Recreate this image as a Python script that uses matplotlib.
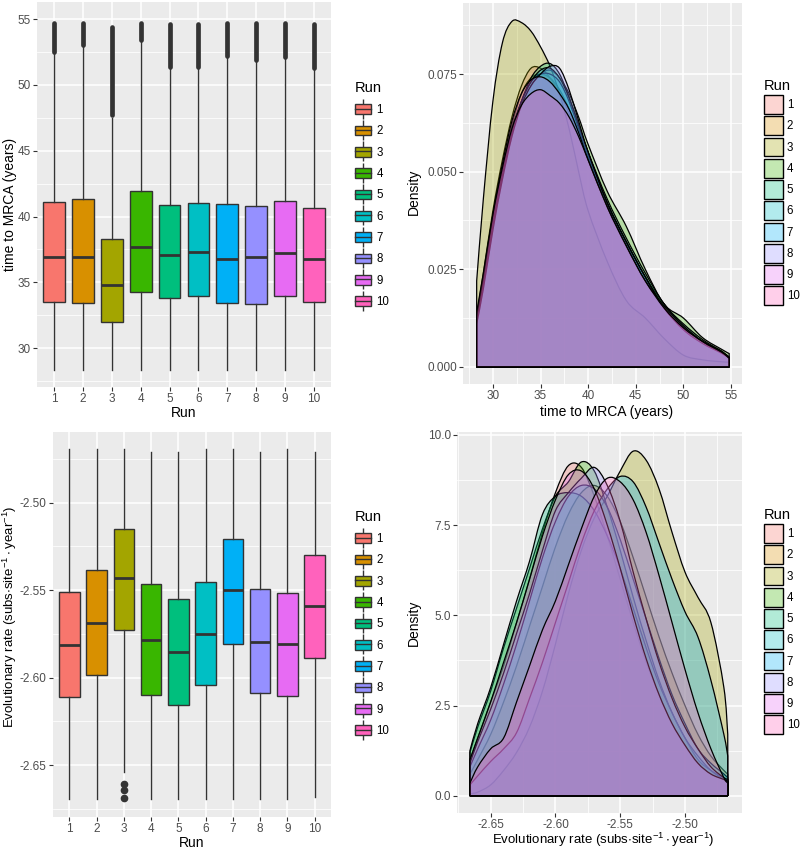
import numpy as np
import matplotlib
matplotlib.use('Agg')
import matplotlib.pyplot as plt
from matplotlib.patches import Patch, PathPatch
from matplotlib.path import Path
from matplotlib.lines import Line2D
from matplotlib.legend_handler import HandlerTuple
from matplotlib.colors import to_rgba

plt.rcParams['font.family'] = ['Liberation Sans', 'DejaVu Sans']
plt.rcParams['axes.unicode_minus'] = False
plt.rcParams['mathtext.default'] = 'regular'

runs = ['1', '2', '3', '4', '5', '6', '7', '8', '9', '10']
colors = ['#F8766D', '#D89000', '#A3A500', '#39B600', '#00BF7D',
          '#00BFC4', '#00B0F6', '#9590FF', '#E76BF3', '#FF62BC']

# time to MRCA boxplots (years)
tm_q1 = [33.52, 33.42, 31.96, 34.28, 33.80, 34.00, 33.42, 33.35, 33.93, 33.52]
tm_med = [36.90, 36.95, 34.81, 37.70, 37.05, 37.27, 36.77, 36.92, 37.20, 36.75]
tm_q3 = [41.08, 41.30, 38.26, 41.96, 40.90, 41.00, 40.98, 40.80, 41.20, 40.65]
tm_lo = [28.36] * 10
tm_hi = [52.4, 52.9, 47.5, 53.3, 51.3, 51.3, 52.1, 51.8, 52.0, 51.2]
tm_out_lo = [52.5, 53.0, 47.7, 53.4, 51.4, 51.4, 52.2, 51.9, 52.1, 51.3]
tm_out_hi = [54.7, 54.7, 54.4, 54.7, 54.6, 54.6, 54.7, 54.7, 54.7, 54.6]

# evolutionary rate boxplots
er_q1 = [-2.6113, -2.5987, -2.5726, -2.6102, -2.6159, -2.6044, -2.5810, -2.6088, -2.6105, -2.5888]
er_med = [-2.5814, -2.5686, -2.5429, -2.5787, -2.5856, -2.5753, -2.5501, -2.5799, -2.5806, -2.5593]
er_q3 = [-2.5511, -2.5385, -2.5152, -2.5465, -2.5551, -2.5454, -2.5206, -2.5496, -2.5518, -2.5299]
er_lo = [-2.6694, -2.6694, -2.6538, -2.6694, -2.6694, -2.6694, -2.6694, -2.6694, -2.6694, -2.6680]
er_hi = [-2.4695, -2.4695, -2.4695, -2.4708, -2.4708, -2.4695, -2.4695, -2.4708, -2.4695, -2.4712]
er_out = [[], [], [-2.661, -2.664, -2.669], [], [], [], [], [], [], []]

# density of time to MRCA
tm_x = [28.3, 29, 30, 31, 32, 33, 34, 35, 36, 37, 38, 39, 40, 42, 44, 46, 48, 50, 52, 54, 54.8]
tm_dens = [
    [0.013, 0.024, 0.040, 0.053, 0.064, 0.072, 0.0765, 0.0765, 0.074, 0.070, 0.065, 0.059, 0.053, 0.041, 0.031, 0.022, 0.016, 0.010, 0.0065, 0.004, 0.002],
    [0.012, 0.022, 0.038, 0.051, 0.062, 0.070, 0.074, 0.075, 0.074, 0.071, 0.066, 0.060, 0.054, 0.042, 0.032, 0.023, 0.016, 0.0105, 0.0065, 0.004, 0.002],
    [0.022, 0.043, 0.068, 0.083, 0.0885, 0.0882, 0.086, 0.082, 0.077, 0.070, 0.061, 0.050, 0.040, 0.027, 0.017, 0.0125, 0.0072, 0.003, 0.0018, 0.0013, 0.0012],
    [0.011, 0.020, 0.035, 0.048, 0.059, 0.067, 0.072, 0.075, 0.076, 0.074, 0.070, 0.064, 0.057, 0.045, 0.036, 0.025, 0.016, 0.0125, 0.0075, 0.0045, 0.0034],
    [0.012, 0.021, 0.036, 0.049, 0.060, 0.068, 0.074, 0.077, 0.0777, 0.075, 0.069, 0.062, 0.055, 0.043, 0.033, 0.024, 0.016, 0.011, 0.007, 0.004, 0.0025],
    [0.013, 0.022, 0.037, 0.050, 0.061, 0.068, 0.073, 0.075, 0.075, 0.073, 0.068, 0.061, 0.054, 0.042, 0.032, 0.023, 0.015, 0.010, 0.0065, 0.0038, 0.0024],
    [0.012, 0.021, 0.036, 0.049, 0.060, 0.068, 0.073, 0.076, 0.0765, 0.074, 0.069, 0.062, 0.055, 0.042, 0.032, 0.023, 0.015, 0.0095, 0.006, 0.0035, 0.0022],
    [0.011, 0.020, 0.035, 0.048, 0.059, 0.067, 0.072, 0.075, 0.077, 0.0765, 0.071, 0.063, 0.055, 0.042, 0.032, 0.023, 0.015, 0.010, 0.0065, 0.0037, 0.0023],
    [0.013, 0.023, 0.039, 0.052, 0.063, 0.070, 0.0735, 0.0743, 0.073, 0.070, 0.066, 0.060, 0.053, 0.041, 0.031, 0.022, 0.0155, 0.0105, 0.0065, 0.0038, 0.0022],
    [0.014, 0.024, 0.039, 0.051, 0.061, 0.067, 0.070, 0.071, 0.0695, 0.0675, 0.064, 0.059, 0.053, 0.041, 0.031, 0.022, 0.015, 0.010, 0.0065, 0.0038, 0.0022],
]

# density of evolutionary rate
er_x = [-2.666, -2.66, -2.65, -2.64, -2.63, -2.62, -2.61, -2.60, -2.59, -2.58, -2.57,
        -2.56, -2.55, -2.54, -2.53, -2.52, -2.51, -2.50, -2.49, -2.48, -2.47, -2.467]
er_dens = [
    [1.0, 1.6, 2.6, 3.6, 4.8, 6.0, 7.3, 8.4, 9.15, 9.1, 8.3, 7.2, 6.0, 4.8, 3.7, 2.8, 2.0, 1.4, 0.9, 0.6, 0.45, 0.4],
    [0.6, 1.0, 1.7, 2.6, 3.6, 4.7, 5.8, 6.9, 7.8, 8.4, 8.6, 8.3, 7.6, 6.6, 5.5, 4.4, 3.4, 2.5, 1.7, 1.1, 0.7, 0.6],
    [0.05, 0.1, 0.3, 0.7, 1.2, 1.9, 2.9, 4.2, 5.6, 6.8, 7.7, 8.3, 9.0, 9.55, 9.3, 8.5, 7.3, 6.2, 5.5, 4.8, 3.0, 1.7],
    [1.2, 1.9, 2.9, 4.1, 5.2, 6.3, 7.4, 8.3, 8.7, 9.25, 9.0, 8.0, 6.8, 5.5, 4.3, 3.2, 2.3, 1.6, 1.0, 0.7, 0.5, 0.45],
    [1.25, 2.0, 3.0, 4.2, 5.4, 6.5, 7.8, 8.3, 8.4, 8.3, 7.9, 7.2, 6.3, 5.2, 4.1, 3.1, 2.3, 1.6, 1.1, 0.7, 0.45, 0.4],
    [0.8, 1.3, 2.1, 3.1, 4.2, 5.4, 6.6, 7.6, 8.3, 8.6, 8.5, 8.0, 7.1, 6.0, 4.9, 3.8, 2.8, 2.0, 1.3, 0.9, 0.6, 0.5],
    [0.3, 0.55, 0.95, 1.3, 1.75, 2.7, 3.7, 4.8, 5.9, 7.0, 7.9, 8.5, 8.85, 8.7, 8.0, 7.0, 6.0, 5.1, 4.4, 3.2, 1.7, 1.1],
    [0.9, 1.5, 2.4, 3.4, 4.5, 5.6, 6.8, 7.9, 8.4, 8.8, 9.1, 8.6, 7.6, 6.2, 4.9, 3.7, 2.7, 1.9, 1.3, 0.8, 0.5, 0.45],
    [1.0, 1.6, 2.6, 3.7, 4.8, 6.0, 7.2, 8.2, 8.9, 9.0, 8.5, 7.5, 6.3, 5.0, 3.8, 2.8, 2.0, 1.4, 0.9, 0.6, 0.45, 0.4],
    [0.35, 0.8, 1.3, 1.6, 2.6, 3.6, 4.6, 5.4, 6.4, 7.4, 8.3, 8.8, 8.7, 8.2, 7.3, 6.1, 4.8, 3.5, 2.3, 1.3, 0.5, 0.35],
]

tm_label = 'time to MRCA (years)'
er_label = r'Evolutionary rate (subs$\cdot$site$^{-1}\cdot$year$^{-1}$)'

fig = plt.figure(figsize=(8, 8.5), dpi=100)
ax_tl = fig.add_axes([0.04625, 0.5447, 0.3675, 0.4529])
ax_tr = fig.add_axes([0.5788, 0.5482, 0.34875, 0.4482])
ax_bl = fig.add_axes([0.06625, 0.0388, 0.3475, 0.4529])
ax_br = fig.add_axes([0.57125, 0.0435, 0.35625, 0.4482])


def gg_style(ax):
    ax.set_facecolor('#EBEBEB')
    for s in ax.spines.values():
        s.set_visible(False)
    ax.set_axisbelow(True)
    ax.grid(which='major', color='white', lw=1.1)
    ax.grid(which='minor', color='white', lw=0.55)
    ax.tick_params(which='major', length=3, width=0.8, color='#333333',
                   labelcolor='#4D4D4D', labelsize=8.5, pad=1.5)
    ax.tick_params(which='minor', length=0)


def labels(ax, xl, xpos, yl, ypos, xsize=10, ysize=10):
    ax.set_xlabel(xl, fontsize=xsize, va='center', ha='center')
    ax.set_ylabel(yl, fontsize=ysize, va='center', ha='center')
    ax.xaxis.set_label_coords(*xpos)
    ax.yaxis.set_label_coords(*ypos)


def boxes(ax, q1, med, q3, lo, hi, out):
    stats = []
    for i in range(len(runs)):
        stats.append(dict(med=med[i], q1=q1[i], q3=q3[i], whislo=lo[i],
                          whishi=hi[i], fliers=out[i]))
    bp = ax.bxp(stats, positions=range(1, 11), widths=0.75, patch_artist=True,
                showcaps=False,
                boxprops=dict(edgecolor='#333333', lw=1),
                whiskerprops=dict(color='#333333', lw=1),
                medianprops=dict(color='#333333', lw=2),
                flierprops=dict(marker='o', markerfacecolor='#333333',
                                markeredgecolor='#333333', markersize=4.5))
    for patch, c in zip(bp['boxes'], colors):
        patch.set_facecolor(c)
    ax.set_xticks(range(1, 11))
    ax.set_xticklabels(runs)
    ax.set_xlim(0.4, 10.6)


def box_legend(ax, y_top):
    handles = []
    for c in colors:
        handles.append((Line2D([], [], color='#333333', marker='|', markersize=15,
                               markeredgewidth=1, linestyle='none'),
                        Patch(facecolor=c, edgecolor='#333333', lw=1),
                        Line2D([], [], color='#333333', lw=1)))
    ax.legend(handles, runs, title='Run', loc='upper left', frameon=False,
              bbox_to_anchor=(349 / 800, 1 - y_top / 850), bbox_transform=fig.transFigure,
              handler_map={tuple: HandlerTuple(ndivide=1, pad=0)},
              fontsize=8.3, title_fontsize=10.5, handlelength=1.45, handleheight=0.95,
              labelspacing=0.81, handletextpad=0.45, borderpad=0, alignment='left')


def dens_legend(ax, y_top):
    handles = [Patch(facecolor=to_rgba(c, 0.3), edgecolor='black', lw=1) for c in colors]
    ax.legend(handles, runs, title='Run', loc='upper left', frameon=False,
              bbox_to_anchor=(758 / 800, 1 - y_top / 850), bbox_transform=fig.transFigure,
              fontsize=8.3, title_fontsize=10.5, handlelength=1.65, handleheight=2.15,
              labelspacing=0.2, handletextpad=0.35, borderpad=0, alignment='left')


def smooth_path(x, y):
    # closed outline: baseline corner, curve through the points, baseline corner
    p = np.column_stack([x, y])
    n = len(p)
    verts = [(x[0], 0), tuple(p[0])]
    codes = [Path.MOVETO, Path.LINETO]
    for i in range(n - 1):
        prev = p[max(i - 1, 0)]
        nxt = p[min(i + 2, n - 1)]
        c1 = p[i] + (p[i + 1] - prev) / 6
        c2 = p[i + 1] - (nxt - p[i]) / 6
        verts += [tuple(c1), tuple(c2), tuple(p[i + 1])]
        codes += [Path.CURVE4] * 3
    verts += [(x[-1], 0), (x[0], 0)]
    codes += [Path.LINETO, Path.CLOSEPOLY]
    return Path(verts, codes)


def densities(ax, x, dens):
    for i, d in enumerate(dens):
        ax.add_patch(PathPatch(smooth_path(np.array(x), np.array(d)),
                               facecolor=to_rgba(colors[i], 0.3), edgecolor='black',
                               lw=0.9, zorder=2 + i))


# top left
gg_style(ax_tl)
boxes(ax_tl, tm_q1, tm_med, tm_q3, tm_lo, tm_hi, [[]] * 10)
vl = ax_tl.vlines(range(1, 11), tm_out_lo, tm_out_hi, color='#333333', lw=3.4, zorder=3)
vl.set_capstyle('round')
ax_tl.set_ylim(27.05, 56.3)
ax_tl.set_yticks([30, 35, 40, 45, 50, 55])
ax_tl.set_yticks([27.5, 32.5, 37.5, 42.5, 47.5, 52.5], minor=True)
labels(ax_tl, 'Run', (0.5, -0.0675), tm_label, (-0.0918, 0.473))
box_legend(ax_tl, 75)

# top right
gg_style(ax_tr)
densities(ax_tr, tm_x, tm_dens)
ax_tr.set_xlim(26.87, 56.15)
ax_tr.set_ylim(-0.0044, 0.0932)
ax_tr.set_xticks([30, 35, 40, 45, 50, 55])
ax_tr.set_xticks([27.5, 32.5, 37.5, 42.5, 47.5, 52.5], minor=True)
ax_tr.set_yticks([0, 0.025, 0.05, 0.075])
ax_tr.set_yticklabels(['0.000', '0.025', '0.050', '0.075'])
ax_tr.set_yticks([0.0125, 0.0375, 0.0625, 0.0875], minor=True)
labels(ax_tr, tm_label, (0.516, -0.0735), 'Density', (-0.1756, 0.504))
dens_legend(ax_tr, 73)

# bottom left
gg_style(ax_bl)
boxes(ax_bl, er_q1, er_med, er_q3, er_lo, er_hi, er_out)
ax_bl.set_ylim(-2.6797, -2.4596)
ax_bl.set_yticks([-2.65, -2.60, -2.55, -2.50])
ax_bl.set_yticklabels(['-2.65', '-2.60', '-2.55', '-2.50'])
ax_bl.set_yticks([-2.675, -2.625, -2.575, -2.525, -2.475], minor=True)
labels(ax_bl, 'Run', (0.5, -0.0675), er_label, (-0.155, 0.519), ysize=9.5)
box_legend(ax_bl, 504)

# bottom right
gg_style(ax_br)
densities(ax_br, er_x, er_dens)
ax_br.set_xlim(-2.676, -2.456)
ax_br.set_ylim(-0.48, 10.08)
ax_br.set_xticks([-2.65, -2.60, -2.55, -2.50])
ax_br.set_xticklabels(['-2.65', '-2.60', '-2.55', '-2.50'])
ax_br.set_xticks([-2.675, -2.625, -2.575, -2.525, -2.475], minor=True)
ax_br.set_yticks([0, 2.5, 5, 7.5, 10])
ax_br.set_yticklabels(['0.0', '2.5', '5.0', '7.5', '10.0'])
ax_br.set_yticks([1.25, 3.75, 6.25, 8.75], minor=True)
labels(ax_br, er_label, (0.512, -0.0696), 'Density', (-0.151, 0.5), xsize=9.5)
dens_legend(ax_br, 502)

fig.savefig('out.png', dpi=100, facecolor='white')
